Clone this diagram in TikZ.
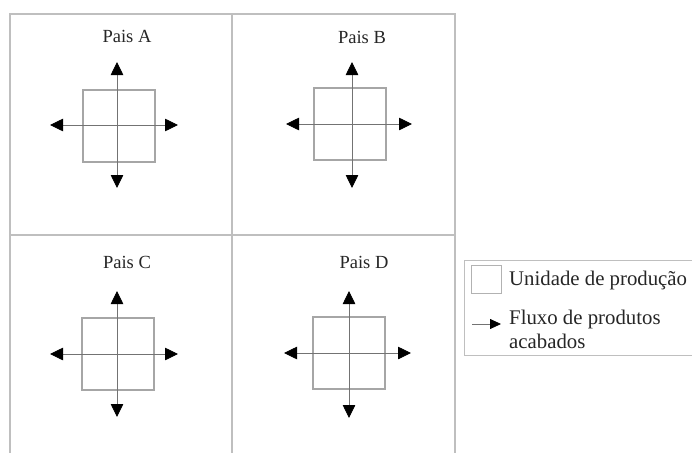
\documentclass[tikz,border=0pt]{standalone}
\usepackage{fontspec}
\setmainfont{Liberation Serif}
\usetikzlibrary{arrows.meta}
\begin{document}
\begin{tikzpicture}[x=1pt,y=-1pt,
  gridline/.style={draw=black!25,line width=1.8pt},
  unitbox/.style={draw=black!35,line width=1.2pt,minimum width=72pt,minimum height=72pt,inner sep=0pt},
  flow/.style={draw=black!55,line width=0.8pt,{Triangle[length=13pt,width=12.5pt,color=black]}-{Triangle[length=13pt,width=12.5pt,color=black]}},
  flowone/.style={draw=black!55,line width=0.8pt,-{Triangle[length=11pt,width=10pt,color=black]}},
  title/.style={font=\fontsize{18.5}{22}\selectfont,text=black!85},
  legtext/.style={font=\fontsize{20.8}{23.5}\selectfont,text=black!85,anchor=west,align=left,inner sep=0pt}]
\useasboundingbox (0,0) rectangle (692,452);
\fill[white] (0,0) rectangle (692,452);
% grid
\draw[gridline] (10,460) -- (10,14) -- (455,14) -- (455,460);
\draw[gridline] (232,14) -- (232,460);
\draw[gridline] (10,235) -- (455,235);
% Pais A
\node[title] (tA) at (127,36) {Pais A};
\node[unitbox] (uA) at (119,126) {};
\coordinate (aL) at (50,125); \coordinate (aR) at (178,125);
\coordinate (aT) at (117,62); \coordinate (aB) at (117,188);
\draw[flow] (aL) -- (aR);
\draw[flow] (aT) -- (aB);
% Pais B
\node[title] (tB) at (362,37) {Pais B};
\node[unitbox] (uB) at (350,124) {};
\coordinate (bL) at (286,124); \coordinate (bR) at (412,124);
\coordinate (bT) at (352,62); \coordinate (bB) at (352,188);
\draw[flow] (bL) -- (bR);
\draw[flow] (bT) -- (bB);
% Pais C
\node[title] (tC) at (127,262) {Pais C};
\node[unitbox] (uC) at (118,354) {};
\coordinate (cL) at (50,354); \coordinate (cR) at (178,354);
\coordinate (cT) at (117,291); \coordinate (cB) at (117,417);
\draw[flow] (cL) -- (cR);
\draw[flow] (cT) -- (cB);
% Pais D
\node[title] (tD) at (364,262) {Pais D};
\node[unitbox] (uD) at (349,353) {};
\coordinate (dL) at (284,353); \coordinate (dR) at (411,353);
\coordinate (dT) at (349,291); \coordinate (dB) at (349,418);
\draw[flow] (dL) -- (dR);
\draw[flow] (dT) -- (dB);
% legend
\node[draw=black!25,line width=1pt,minimum width=240pt,minimum height=95pt,anchor=north west,inner sep=0pt] (leg) at (464,260) {};
\node[draw=black!30,line width=1pt,minimum width=30pt,minimum height=28pt,inner sep=0pt] (legU) at (486,279) {};
\node[legtext] (legUt) at (509,280) {Unidade de produção};
\coordinate (lA) at (472,324); \coordinate (lB) at (501,324);
\draw[flowone] (lA) -- (lB);
\node[legtext,anchor=north west] (legFt) at (509,310) {Fluxo de produtos\\acabados};
\end{tikzpicture}
\end{document}
